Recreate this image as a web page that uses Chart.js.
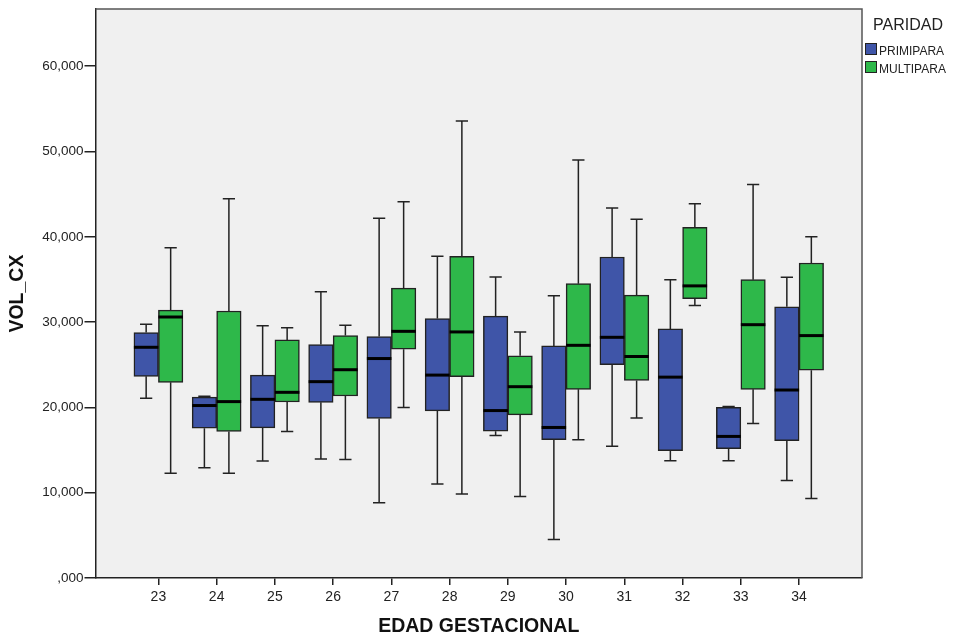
<!DOCTYPE html>
<html>
<head>
<meta charset="utf-8">
<script src="https://cdn.jsdelivr.net/npm/chart.js@4.4.1/dist/chart.umd.min.js"></script>
<style>
  body { margin: 0; background: #fff; }
  #box { width: 961px; height: 639px; }
</style>
</head>
<body>
<div id="box"><canvas id="boxChart" width="961" height="639"></canvas></div>
<script>
// Edad gestacional (semanas)
const ages = [23, 24, 25, 26, 27, 28, 29, 30, 31, 32, 33, 34];
const yTicks = [0, 10000, 20000, 30000, 40000, 50000, 60000];

// PRIMIPARA: min, Q1, mediana, Q3, max
const primMin = [21070, 12940, 13720, 13960,  8830, 11010, 16720,  4510, 15440, 13760, 13760, 11430];
const primQ1  = [23640, 17570, 17610, 20600, 18700, 19590, 17220, 16210, 25000, 14920, 15160, 16090];
const primMed = [27050, 20220, 20950, 23020, 25730, 23790, 19630, 17650, 28220, 23550, 16600, 22040];
const primQ3  = [28770, 21200, 23790, 27370, 28300, 30430, 30710, 27210, 37630, 29200, 20020, 31800];
const primMax = [29740, 21300, 29580, 33550, 42170, 37710, 35290, 33080, 43370, 34980, 20100, 35250];

// MULTIPARA: min, Q1, mediana, Q3, max
const multMin = [12290, 12290, 17190, 13880, 19990,  9840,  9560, 16210, 18770, 31950, 18110,  9330];
const multQ1  = [22940, 17190, 20640, 21340, 26820, 23600, 19120, 22120, 23170, 32760, 22120, 24370];
const multMed = [30600, 20680, 21770, 24420, 28920, 28850, 22430, 27280, 25970, 34250, 29700, 28420];
const multQ3  = [31410, 31300, 27910, 28420, 33980, 37710, 26050, 34510, 33160, 41120, 34980, 36930];
const multMax = [38710, 44470, 29350, 29620, 44120, 53570, 28850, 49020, 42060, 43880, 46140, 40000];

const FONT = '"Liberation Sans", Arial, sans-serif';

function boxes(q1, q3) {
    return ages.map((a, i) => ({ x: a, y: [q1[i], q3[i]] }));
}

const stats = [
    { min: primMin, med: primMed, max: primMax },
    { min: multMin, med: multMed, max: multMax }
];

// plot background + frame + legend
const frame = {
    id: 'frame',
    beforeDraw(chart) {
        const { ctx, chartArea: a } = chart;
        ctx.save();
        ctx.fillStyle = '#f0f0f0';
        ctx.fillRect(a.left, a.top, a.right - a.left, a.bottom - a.top);
        ctx.restore();
    },
    afterDraw(chart) {
        const { ctx, chartArea: a } = chart;
        ctx.save();
        ctx.strokeStyle = '#555';
        ctx.lineWidth = 1.5;
        ctx.beginPath();
        ctx.moveTo(a.left, a.top);
        ctx.lineTo(a.right, a.top);
        ctx.lineTo(a.right, a.bottom);
        ctx.stroke();

        ctx.fillStyle = '#222';
        ctx.textBaseline = 'alphabetic';
        ctx.font = '16px ' + FONT;
        ctx.fillText('PARIDAD', 873, 30);
        ctx.font = '12px ' + FONT;
        chart.data.datasets.forEach((ds, k) => {
            const y = 43 + k * 18;
            ctx.fillStyle = ds.backgroundColor;
            ctx.fillRect(865, y, 12, 12);
            ctx.strokeStyle = '#222';
            ctx.lineWidth = 1;
            ctx.strokeRect(865.5, y + 0.5, 11, 11);
            ctx.fillStyle = '#222';
            ctx.fillText(ds.label, 879, y + 12);
        });
        ctx.restore();
    }
};

// whiskers under the boxes, medians over them
const whiskers = {
    id: 'whiskers',
    beforeDatasetsDraw(chart) {
        const { ctx } = chart;
        const yScale = chart.scales.y;
        ctx.save();
        ctx.strokeStyle = '#222';
        ctx.lineWidth = 1.5;
        chart.data.datasets.forEach((ds, k) => {
            const meta = chart.getDatasetMeta(k);
            const s = stats[k];
            meta.data.forEach((bar, i) => {
                const x = bar.x;
                const cap = bar.width / 4;
                const yMin = yScale.getPixelForValue(s.min[i]);
                const yMax = yScale.getPixelForValue(s.max[i]);
                const yQ1 = yScale.getPixelForValue(ds.data[i].y[0]);
                const yQ3 = yScale.getPixelForValue(ds.data[i].y[1]);
                ctx.beginPath();
                ctx.moveTo(x, yQ3); ctx.lineTo(x, yMax);
                ctx.moveTo(x - cap, yMax); ctx.lineTo(x + cap, yMax);
                ctx.moveTo(x, yQ1); ctx.lineTo(x, yMin);
                ctx.moveTo(x - cap, yMin); ctx.lineTo(x + cap, yMin);
                ctx.stroke();
            });
        });
        ctx.restore();
    },
    afterDatasetsDraw(chart) {
        const { ctx } = chart;
        const yScale = chart.scales.y;
        ctx.save();
        ctx.strokeStyle = '#000';
        ctx.lineWidth = 3;
        chart.data.datasets.forEach((ds, k) => {
            const meta = chart.getDatasetMeta(k);
            meta.data.forEach((bar, i) => {
                const y = yScale.getPixelForValue(stats[k].med[i]);
                ctx.beginPath();
                ctx.moveTo(bar.x - bar.width / 2, y);
                ctx.lineTo(bar.x + bar.width / 2, y);
                ctx.stroke();
            });
        });
        ctx.restore();
    }
};

new Chart(document.getElementById('boxChart'), {
    type: 'bar',
    data: {
        datasets: [
            {
                label: 'PRIMIPARA',
                data: boxes(primQ1, primQ3),
                backgroundColor: '#3f55a8',
                borderColor: '#222',
                borderWidth: 1.5,
                borderSkipped: false,
                barThickness: 24.5
            },
            {
                label: 'MULTIPARA',
                data: boxes(multQ1, multQ3),
                backgroundColor: '#2eb84a',
                borderColor: '#222',
                borderWidth: 1.5,
                borderSkipped: false,
                barThickness: 24.5
            }
        ]
    },
    options: {
        responsive: false,
        devicePixelRatio: 1,
        animation: false,
        layout: { padding: { left: 0, right: 99, top: 6, bottom: 0 } },
        plugins: {
            legend: { display: false },
            tooltip: { enabled: false }
        },
        scales: {
            x: {
                type: 'linear',
                min: 21.92,
                max: 35.08,
                offset: false,
                afterBuildTicks: s => { s.ticks = ages.map(v => ({ value: v })); },
                afterFit: s => { s.height = 61; },
                ticks: {
                    color: '#222',
                    font: { family: FONT, size: 14 },
                    padding: 4,
                    maxRotation: 0,
                    callback: v => String(v)
                },
                grid: { offset: false, drawOnChartArea: false, drawTicks: true, tickLength: 7, color: '#222', lineWidth: 1.5 },
                border: { color: '#222', width: 1.5 },
                title: {
                    display: true,
                    text: 'EDAD GESTACIONAL',
                    color: '#111',
                    font: { family: FONT, size: 19.5, weight: 'bold' },
                    padding: { top: 0, bottom: 1 }
                }
            },
            y: {
                min: 0,
                max: 66700,
                afterBuildTicks: s => { s.ticks = yTicks.map(v => ({ value: v })); },
                afterFit: s => { s.width = 95.5; },
                ticks: {
                    color: '#222',
                    font: { family: FONT, size: 13.5 },
                    padding: 1,
                    callback: v => v === 0 ? ',000' : v.toLocaleString('en-US')
                },
                grid: { drawOnChartArea: false, drawTicks: true, tickLength: 11, color: '#222', lineWidth: 1.5 },
                border: { color: '#222', width: 1.5 },
                title: {
                    display: true,
                    text: 'VOL_CX',
                    color: '#111',
                    font: { family: FONT, size: 19.5, weight: 'bold' },
                    padding: { top: 6, bottom: 0 }
                }
            }
        }
    },
    plugins: [frame, whiskers]
});
</script>
</body>
</html>
